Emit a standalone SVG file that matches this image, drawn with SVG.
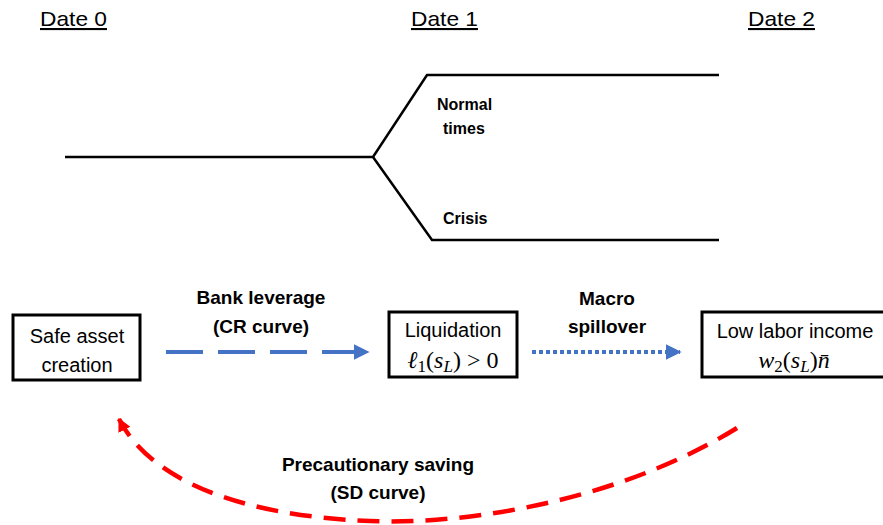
<svg xmlns="http://www.w3.org/2000/svg" width="883" height="525" viewBox="0 0 883 525">
<style>
.hdr{font-family:"Liberation Sans",Arial,sans-serif;font-size:21px;fill:#000;text-decoration:underline}
.lbl{font-family:"Liberation Sans",Arial,sans-serif;font-size:19px;font-weight:bold;fill:#000}
.tl{font-family:"Liberation Sans",Arial,sans-serif;font-size:16px;font-weight:bold;fill:#000}
.box{fill:#fff;stroke:#000;stroke-width:3}
.bt{font-family:"Liberation Sans",Arial,sans-serif;font-size:20px;fill:#000}
.m{font-family:"Liberation Serif","Times New Roman",serif;font-size:24px;fill:#000}
.tree{fill:none;stroke:#000;stroke-width:2.5}
</style>
<defs>
<marker id="ab" viewBox="0 0 10 10" refX="9" refY="5" markerWidth="4" markerHeight="4" orient="auto" markerUnits="strokeWidth"><path d="M0,0L10,5L0,10z" fill="#4472c4"/></marker>
<marker id="ar" viewBox="0 0 10 10" refX="9" refY="5" markerWidth="3" markerHeight="3" orient="auto" markerUnits="strokeWidth"><path d="M0,0L10,5L0,10z" fill="#ff0000"/></marker>
</defs>
<g id="headers">
<text class="hdr" x="40" y="26" textLength="67" lengthAdjust="spacingAndGlyphs">Date 0</text>
<text class="hdr" x="411" y="26" textLength="67" lengthAdjust="spacingAndGlyphs">Date 1</text>
<text class="hdr" x="748" y="26" textLength="67" lengthAdjust="spacingAndGlyphs">Date 2</text>
</g>
<g id="tree">
<polyline class="tree" points="65,157 373,157 427,75 719,75"/>
<polyline class="tree" points="373,157 432,240 719,240"/>
<text class="tl" x="437" y="110">Normal</text>
<text class="tl" x="443" y="134">times</text>
<text class="tl" x="443" y="224">Crisis</text>
</g>
<g id="connectors">
<line x1="166" y1="352" x2="368" y2="352" stroke="#4472c4" stroke-width="4" stroke-dasharray="37,15" marker-end="url(#ab)"/>
<line x1="532" y1="352" x2="680" y2="352" stroke="#4472c4" stroke-width="4" stroke-dasharray="4,3" marker-end="url(#ab)"/>
<path d="M737,428 C620,500 470,525 370,521 C240,516 150,480 119,419" fill="none" stroke="#ff0000" stroke-width="4.5" stroke-dasharray="22,12" marker-end="url(#ar)"/>
<text class="lbl" x="261" y="304" text-anchor="middle">Bank leverage</text>
<text class="lbl" x="261" y="333" text-anchor="middle">(CR curve)</text>
<text class="lbl" x="607" y="305" text-anchor="middle">Macro</text>
<text class="lbl" x="607" y="333" text-anchor="middle">spillover</text>
<text class="lbl" x="378" y="471" text-anchor="middle">Precautionary saving</text>
<text class="lbl" x="378" y="499" text-anchor="middle">(SD curve)</text>
</g>
<g id="safe">
<rect class="box" x="13" y="315" width="127" height="65"/>
<text class="bt" x="77" y="343" text-anchor="middle">Safe asset</text>
<text class="bt" x="77" y="372" text-anchor="middle">creation</text>
</g>
<g id="liq">
<rect class="box" x="389" y="312" width="128" height="65"/>
<text class="bt" x="453" y="337" text-anchor="middle">Liquidation</text>
<text class="m" x="453" y="368" text-anchor="middle"><tspan font-style="italic">ℓ</tspan><tspan font-size="17" dy="4">1</tspan><tspan dy="-4">(</tspan><tspan font-style="italic">s</tspan><tspan font-style="italic" font-size="17" dy="4">L</tspan><tspan dy="-4">) &gt; 0</tspan></text>
</g>
<g id="low">
<rect class="box" x="702" y="312" width="190" height="65"/>
<text class="bt" x="795" y="338" text-anchor="middle">Low labor income</text>
<text class="m" x="794" y="368" text-anchor="middle"><tspan font-style="italic">w</tspan><tspan font-size="17" dy="4">2</tspan><tspan dy="-4">(</tspan><tspan font-style="italic">s</tspan><tspan font-style="italic" font-size="17" dy="4">L</tspan><tspan dy="-4">)</tspan><tspan font-style="italic">n̄</tspan></text>
</g>
</svg>
